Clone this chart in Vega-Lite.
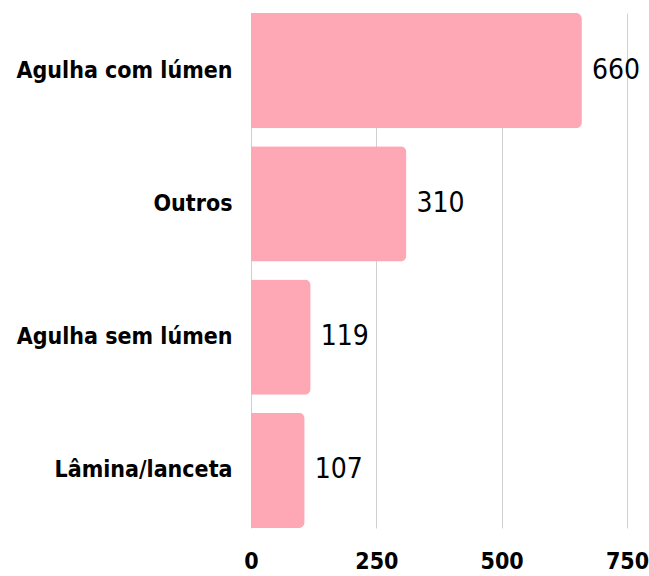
{
  "$schema": "https://vega.github.io/schema/vega-lite/v6.json",
  "width": 376,
  "height": 515,
  "autosize": {"type": "none"},
  "padding": {"left": 251, "top": 13, "right": 22, "bottom": 48},
  "background": "white",
  "config": {"view": {"stroke": null}, "font": "DejaVu Sans Condensed"},
  "data": {"values": [
    {"category": "Agulha com lúmen", "value": 660},
    {"category": "Outros", "value": 310},
    {"category": "Agulha sem lúmen", "value": 119},
    {"category": "Lâmina/lanceta", "value": 107}
  ]},
  "encoding": {
    "y": {"field": "category", "type": "nominal", "sort": null,
      "scale": {"paddingInner": 0.134, "paddingOuter": 0},
      "axis": {"title": null, "ticks": false, "domain": false, "labelFontSize": 23, "labelFontWeight": "bold", "labelColor": "black", "labelPadding": 19, "labelLimit": 0, "labelFont": "DejaVu Sans Condensed"}},
    "x": {"field": "value", "type": "quantitative",
      "scale": {"domain": [0, 750], "nice": false},
      "axis": {"title": null, "values": [0, 250, 500, 750], "ticks": false, "domain": false, "gridColor": "#d0d0d0", "gridWidth": 1, "labelFontSize": 23, "labelFontWeight": "bold", "labelColor": "black", "labelPadding": 22, "labelBaseline": "top", "labelFlush": false, "labelFont": "DejaVu Sans Condensed"}}
  },
  "layer": [
    {"mark": {"type": "bar", "color": "#FFA8B5", "cornerRadiusEnd": 6}},
    {"mark": {"type": "text", "align": "left", "baseline": "middle", "dx": 10, "fontSize": 28, "color": "black", "font": "DejaVu Sans Condensed"},
     "encoding": {"text": {"field": "value", "type": "quantitative"}}}
  ]
}
